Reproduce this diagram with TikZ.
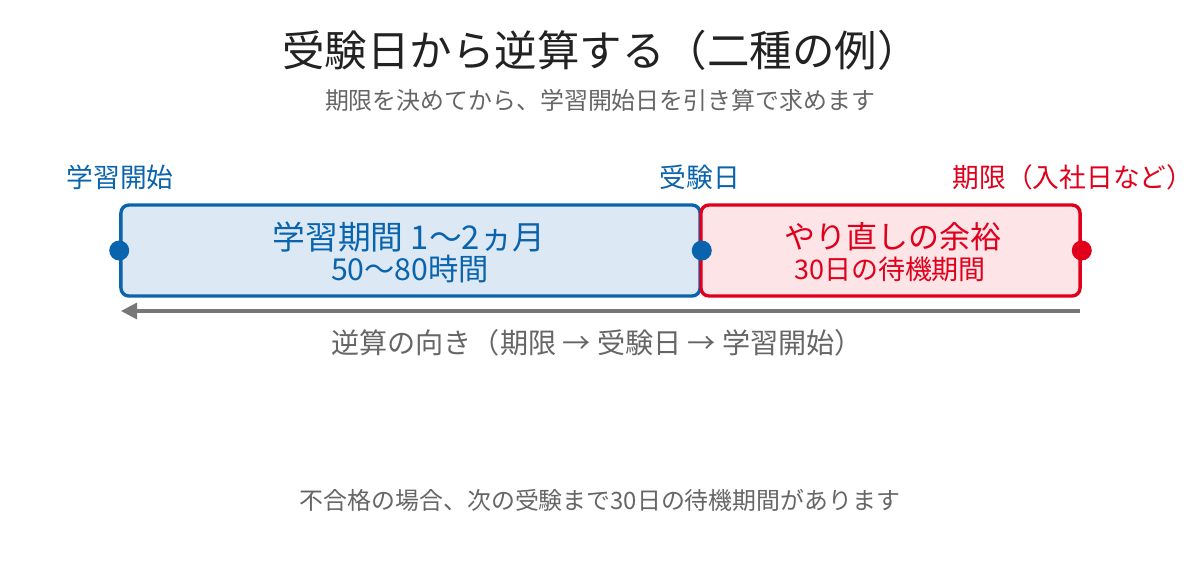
\documentclass[tikz,border=0pt]{standalone}
\usepackage{fontspec}
\setmainfont{Noto Sans CJK JP}
\usepackage{xcolor}
\usepackage{tikz}
\usetikzlibrary{arrows.meta}

\definecolor{studyblue}{HTML}{0A64AD}
\definecolor{studyfill}{HTML}{DCE9F5}
\definecolor{retryred}{HTML}{E0001B}
\definecolor{retryfill}{HTML}{FCE4E7}
\definecolor{titlegray}{HTML}{222222}
\definecolor{notegray}{HTML}{666666}
\definecolor{arrowgray}{HTML}{777777}

\begin{document}
\begin{tikzpicture}[x=0.025cm, y=-0.025cm,
    period/.style={draw, rectangle, rounded corners=0.2cm, line width=2.4pt, minimum height=2.275cm, inner sep=0pt},
    pin/.style={circle, inner sep=0pt, minimum size=0.5cm},
    note/.style={text=notegray, inner sep=0pt}]
        \useasboundingbox[fill=white] (0,0) rectangle (1200,560);

        % title
        \node[text=titlegray, font=\fontsize{30.2}{34}\selectfont] (title) at (601,50) {受験日から逆算する（二種の例）};
        \node[note, font=\fontsize{17}{20}\selectfont] (subtitle) at (600,100) {期限を決めてから、学習開始日を引き算で求めます};

        % the two periods
        \node[period, studyblue, fill=studyfill, minimum width=14.475cm] (study) at (410.5,250.5) {};
        \node[period, retryred, fill=retryfill, minimum width=9.475cm] (retry) at (890.5,250.5) {};

        \node[text=studyblue, font=\fontsize{23.3}{26}\selectfont] (studyT) at (409,237) {学習期間 1〜2ヵ月};
        \node[text=studyblue, font=\fontsize{21.5}{24}\selectfont] (studyS) at (410,269) {50〜80時間};
        \node[text=retryred, font=\fontsize{22}{25}\selectfont] (retryT) at (893,237) {やり直しの余裕};
        \node[text=retryred, font=\fontsize{19.2}{22}\selectfont] (retryS) at (890,269) {30日の待機期間};

        % pins
        \node[pin, fill=studyblue] (start) at (study.west) {};
        \node[pin, fill=studyblue] (exam) at (study.east) {};
        \node[pin, fill=retryred] (limit) at (retry.east) {};

        \node[text=studyblue, font=\fontsize{19}{22}\selectfont] (startL) at (120,177) {学習開始};
        \node[text=studyblue, font=\fontsize{19}{22}\selectfont] (examL) at (700,177) {受験日};
        \node[text=retryred, font=\fontsize{19}{22}\selectfont] (limitL) at (1073,177) {期限（入社日など）};

        % backwards arrow
        \coordinate (backR) at (1080,311);
        \coordinate (backL) at (121,311);
        \draw[-{Triangle[length=0.4cm, width=0.4cm]}, arrowgray, line width=2.2pt] (backR) -- (backL);
        \node[note, font=\fontsize{20}{23}\selectfont] (backT) at (597,343) {逆算の向き（期限 → 受験日 → 学習開始）};

        \node[note, font=\fontsize{17}{20}\selectfont] (footer) at (600,500) {不合格の場合、次の受験まで30日の待機期間があります};
    \end{tikzpicture}
\end{document}
